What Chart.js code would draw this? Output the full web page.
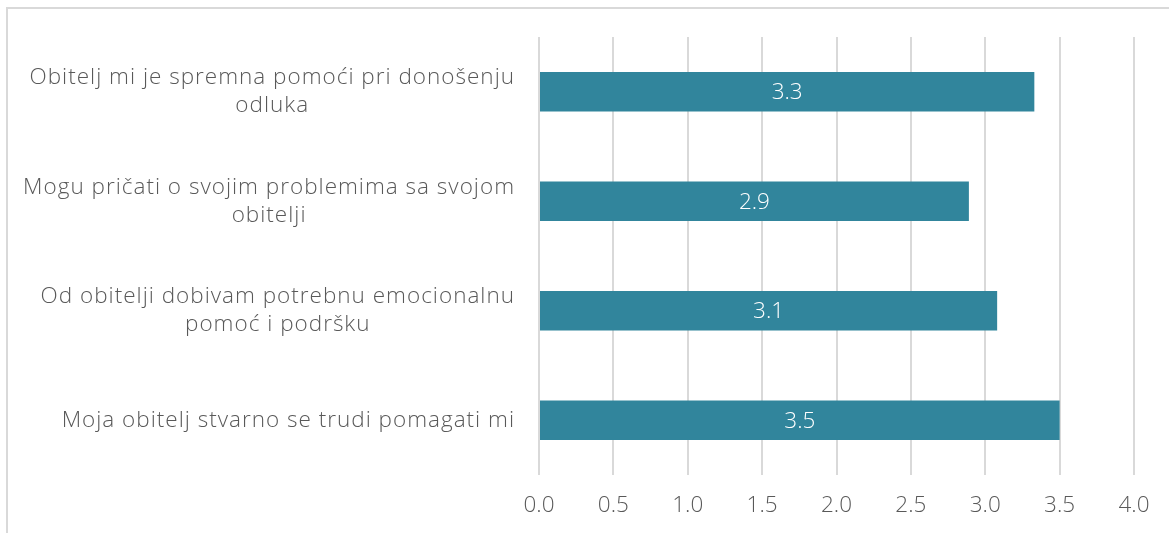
<!DOCTYPE html>
<html>
<head>
<meta charset="utf-8">
<script src="https://cdn.jsdelivr.net/npm/chart.js@4"></script>
<style>
    html, body { margin: 0; padding: 0; background: #fff; overflow: hidden; }
    #frame {
        position: absolute; left: 6px; top: 7px; width: 1300px; height: 700px;
        border: 2px solid #d9d9d9; box-sizing: border-box;
    }
    #wrap { position: absolute; left: 0; top: 0; width: 1169px; height: 533px; }
</style>
</head>
<body>
<div id="frame"></div>
<div id="wrap"><canvas id="familyChart" width="1169" height="533"></canvas></div>
<script>
const categories = [
    ['Obitelj mi je spremna pomoći pri donošenju', 'odluka'],
    ['Mogu pričati o svojim problemima sa svojom', 'obitelji'],
    ['Od obitelji dobivam potrebnu emocionalnu', 'pomoć i podršku'],
    ['Moja obitelj stvarno se trudi pomagati mi']
];
const values = [3.33, 2.89, 3.08, 3.50];
const xTicks = [0, 0.5, 1, 1.5, 2, 2.5, 3, 3.5, 4];

const FONT = '"Open Sans", Lato, sans-serif';
const SIZE = 22.5;
const GREY = '#595959';

// category labels: block right-aligned, lines centred inside the block
const catLabels = {
    id: 'catLabels',
    afterDraw(chart) {
        const { ctx, scales: { y } } = chart;
        const right = y.right - 24;
        const lh = 28;
        ctx.save();
        ctx.font = `300 ${SIZE}px ${FONT}`;
        ctx.letterSpacing = '1px';
        ctx.fillStyle = GREY;
        ctx.textAlign = 'center';
        ctx.textBaseline = 'middle';
        categories.forEach((lines, i) => {
            const cy = y.getPixelForTick(i);
            const w = Math.max(...lines.map(l => ctx.measureText(l).width));
            const cx = right - w / 2;
            const top = cy - (lines.length - 1) * lh / 2;
            lines.forEach((l, k) => ctx.fillText(l, cx, top + k * lh));
        });
        ctx.restore();
    }
};

// value labels centred inside each bar
const barLabels = {
    id: 'barLabels',
    afterDatasetsDraw(chart) {
        const { ctx } = chart;
        const meta = chart.getDatasetMeta(0);
        ctx.save();
        ctx.font = `300 ${SIZE}px ${FONT}`;
        ctx.fillStyle = '#ffffff';
        ctx.textAlign = 'center';
        ctx.textBaseline = 'middle';
        meta.data.forEach((bar, i) => {
            ctx.fillText(values[i].toFixed(1), (bar.x + bar.base) / 2, bar.y + 1);
        });
        ctx.restore();
    }
};

new Chart(document.getElementById('familyChart'), {
    type: 'bar',
    data: {
        labels: categories.map(c => c.join(' ')),
        datasets: [{
            data: values,
            backgroundColor: '#31859c',
            borderWidth: 0,
            barPercentage: 0.36,
            categoryPercentage: 1
        }]
    },
    options: {
        indexAxis: 'y',
        responsive: false,
        animation: false,
        events: [],
        layout: { padding: { top: 37, right: 35, bottom: 0, left: 0 } },
        plugins: { legend: { display: false }, tooltip: { enabled: false } },
        scales: {
            x: {
                min: 0, max: 4,
                afterBuildTicks: scale => { scale.ticks = xTicks.map(v => ({ value: v })); },
                afterFit: scale => { scale.height = 58; },
                grid: { color: '#d9d9d9', lineWidth: 2, drawTicks: false },
                border: { display: false },
                ticks: {
                    padding: 17,
                    color: GREY,
                    font: { family: FONT, size: SIZE, weight: 300 },
                    callback: v => Number(v).toFixed(1)
                }
            },
            y: {
                grid: { display: false },
                border: { display: false },
                ticks: { display: false },
                afterFit: scale => { scale.width = 539; }
            }
        }
    },
    plugins: [catLabels, barLabels]
});
</script>
</body>
</html>
